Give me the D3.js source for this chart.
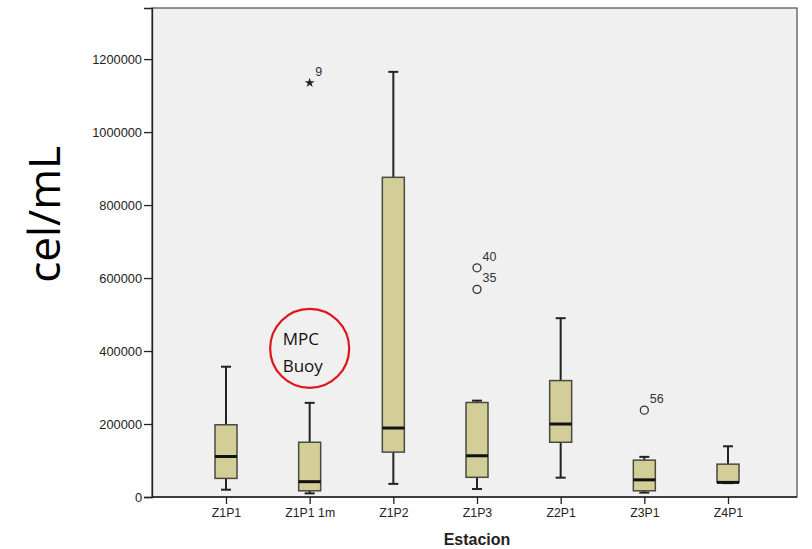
<!DOCTYPE html>
<html>
<head>
<meta charset="utf-8">
<script src="https://cdn.jsdelivr.net/npm/d3@7"></script>
<style>
  html, body { margin: 0; padding: 0; background: #ffffff; }
  svg { display: block; }
</style>
</head>
<body>
<svg id="chart" width="812" height="549"></svg>
<script>
// ---- data ----
const categories = ["Z1P1", "Z1P1 1m", "Z1P2", "Z1P3", "Z2P1", "Z3P1", "Z4P1"];
const whiskerLow  = [20000, 10000, 36000, 22000, 53000, 12000, 38000];
const q1          = [51000, 17000, 123000, 54000, 150000, 17000, 40000];
const medians     = [111000, 42000, 189000, 113000, 200000, 47000, 40000];
const q3          = [198000, 150000, 876000, 259000, 319000, 101000, 90000];
const whiskerHigh = [357000, 258000, 1165000, 264000, 490000, 110000, 139000];

const outlierCats   = ["Z1P1 1m", "Z1P3", "Z1P3", "Z3P1"];
const outlierValues = [1135000, 628000, 569000, 238000];
const outlierLabels = ["9", "40", "35", "56"];
const outlierKinds  = ["extreme", "mild", "mild", "mild"];

const yTicks = [0, 200000, 400000, 600000, 800000, 1000000, 1200000];
const yTitle = "cel/mL";
const xTitle = "Estacion";
const noteLines = ["MPC", "Buoy"];
const noteCategory = "Z1P1 1m";
const noteValue = 410000;

// ---- layout ----
const svg = d3.select("#chart");
const plot = { left: 152, top: 8, right: 797, bottom: 497 };

const x = d3.scalePoint()
  .domain(categories)
  .range([226, 728]);

const y = d3.scaleLinear()
  .domain([0, 1340000])
  .range([plot.bottom, plot.top]);

// background
svg.append("rect")
  .attr("x", plot.left).attr("y", plot.top)
  .attr("width", plot.right - plot.left).attr("height", plot.bottom - plot.top)
  .attr("fill", "#f0f0f0")
  .attr("stroke", "#5a5a5a").attr("stroke-width", 1.3);

// y axis
const yAxis = d3.axisLeft(y)
  .tickValues(yTicks)
  .tickFormat(d3.format("d"))
  .tickSizeOuter(0)
  .tickSize(8)
  .tickPadding(2);
const gy = svg.append("g")
  .attr("transform", `translate(${plot.left},0)`)
  .call(yAxis);
gy.select(".domain").attr("stroke", "#222").attr("stroke-width", 1.3);
gy.selectAll(".tick line").attr("stroke", "#222").attr("stroke-width", 1.3);
gy.selectAll(".tick text")
  .attr("font-family", "Liberation Sans, Arial, sans-serif")
  .attr("font-size", 12.8).attr("fill", "#222");

// x axis
const xAxis = d3.axisBottom(x).tickSizeOuter(0).tickSize(7).tickPadding(4);
const gx = svg.append("g")
  .attr("transform", `translate(0,${plot.bottom})`)
  .call(xAxis);
gx.select(".domain")
  .attr("d", `M${plot.left},0H${plot.right}`)
  .attr("stroke", "#222").attr("stroke-width", 1.3);
gx.selectAll(".tick line").attr("stroke", "#222").attr("stroke-width", 1.3);
gx.selectAll(".tick text")
  .attr("font-family", "Liberation Sans, Arial, sans-serif")
  .attr("font-size", 12.3).attr("fill", "#222");

// boxes
const boxW = 22, capW = 10;
const data = categories.map((c, i) => ({
  c, lo: whiskerLow[i], q1: q1[i], med: medians[i], q3: q3[i], hi: whiskerHigh[i]
}));
const g = svg.append("g");
data.forEach(d => {
  const cx = x(d.c);
  // whiskers
  g.append("line").attr("x1", cx).attr("x2", cx)
    .attr("y1", y(d.q3)).attr("y2", y(d.hi))
    .attr("stroke", "#222").attr("stroke-width", 2);
  g.append("line").attr("x1", cx).attr("x2", cx)
    .attr("y1", y(d.q1)).attr("y2", y(d.lo))
    .attr("stroke", "#222").attr("stroke-width", 2);
  g.append("line").attr("x1", cx - capW / 2).attr("x2", cx + capW / 2)
    .attr("y1", y(d.hi)).attr("y2", y(d.hi))
    .attr("stroke", "#222").attr("stroke-width", 2);
  g.append("line").attr("x1", cx - capW / 2).attr("x2", cx + capW / 2)
    .attr("y1", y(d.lo)).attr("y2", y(d.lo))
    .attr("stroke", "#222").attr("stroke-width", 2);
  // box
  g.append("rect")
    .attr("x", cx - boxW / 2).attr("width", boxW)
    .attr("y", y(d.q3)).attr("height", y(d.q1) - y(d.q3))
    .attr("fill", "#d3ce98")
    .attr("stroke", "#4a4a40").attr("stroke-width", 1.5);
  // median
  g.append("line").attr("x1", cx - boxW / 2).attr("x2", cx + boxW / 2)
    .attr("y1", y(d.med)).attr("y2", y(d.med))
    .attr("stroke", "#111").attr("stroke-width", 3);
});

// outliers
const star = d3.symbol().type(d3.symbolStar).size(30);
outlierCats.forEach((c, i) => {
  const px = x(c), py = y(outlierValues[i]);
  if (outlierKinds[i] === "extreme") {
    g.append("path").attr("d", star())
      .attr("transform", `translate(${px},${py})`)
      .attr("fill", "#222");
  } else {
    g.append("circle").attr("cx", px).attr("cy", py).attr("r", 4)
      .attr("fill", "none").attr("stroke", "#333").attr("stroke-width", 1.3);
  }
  g.append("text")
    .attr("x", px + 5.5).attr("y", py - 7)
    .attr("font-family", "Liberation Sans, Arial, sans-serif")
    .attr("font-size", 12.5).attr("fill", "#333")
    .text(outlierLabels[i]);
});

// annotation circle
const ncx = x(noteCategory), ncy = y(noteValue);
svg.append("circle")
  .attr("cx", ncx).attr("cy", ncy + 1).attr("r", 39.5)
  .attr("fill", "none").attr("stroke", "#e0141a").attr("stroke-width", 2.2);
noteLines.forEach((t, i) => {
  svg.append("text")
    .attr("x", ncx - 27).attr("y", ncy - 2 + i * 27)
    .attr("font-family", "Open Sans, Noto Sans, sans-serif")
    .attr("font-size", 17).attr("fill", "#111")
    .text(t);
});

// axis titles
svg.append("text")
  .attr("transform", `translate(60,${(plot.top + plot.bottom) / 2 - 38}) rotate(-90)`)
  .attr("text-anchor", "middle")
  .attr("font-family", "Open Sans, Noto Sans, sans-serif")
  .attr("font-size", 44).attr("fill", "#000")
  .text(yTitle);

svg.append("text")
  .attr("x", x("Z1P3")).attr("y", 545)
  .attr("text-anchor", "middle")
  .attr("font-family", "Liberation Sans, Arial, sans-serif")
  .attr("font-weight", "bold")
  .attr("font-size", 16).attr("fill", "#222")
  .text(xTitle);
</script>
</body>
</html>
